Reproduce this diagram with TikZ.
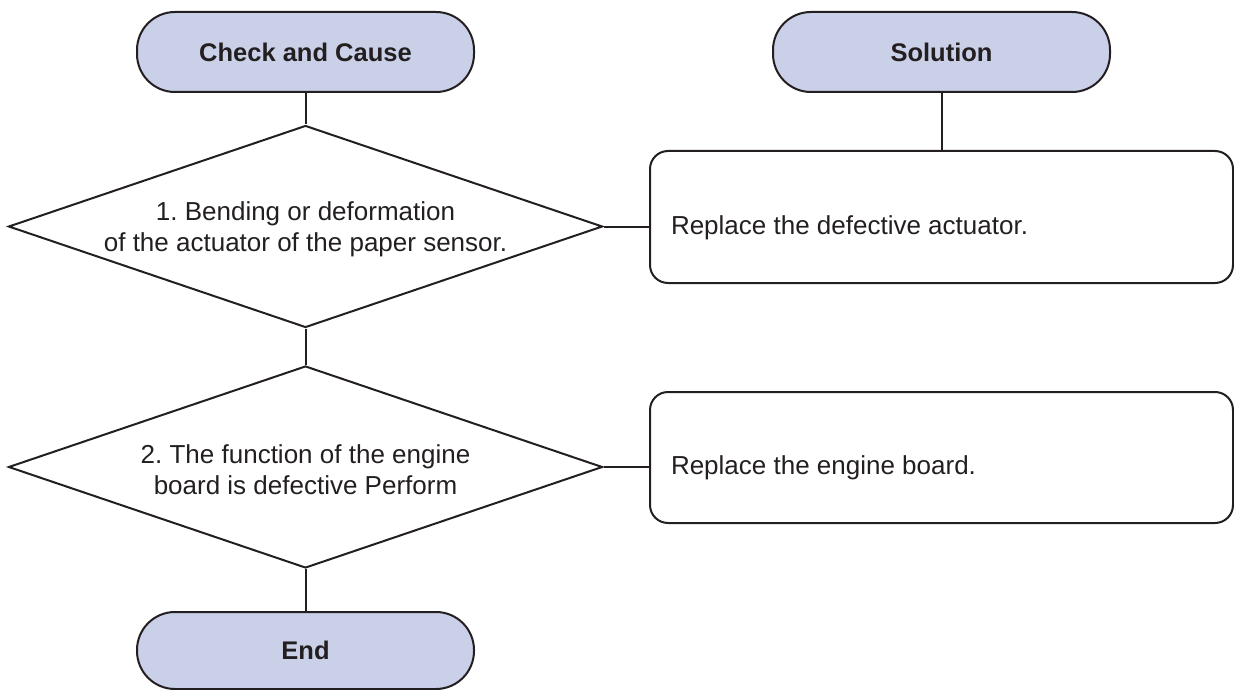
\documentclass[tikz,border=0pt]{standalone}
\usepackage{fontspec}
\setmainfont{Liberation Sans}
\usetikzlibrary{shapes.geometric}
\definecolor{pillfill}{HTML}{CBD0E9}
\definecolor{ink}{HTML}{231F20}
\frenchspacing
\begin{document}
\begin{tikzpicture}[x=1pt,y=-1pt,
  line width=2pt, draw=ink, text=ink,
  pill/.style={draw=ink, fill=pillfill, rectangle, rounded corners=38pt,
    minimum width=337pt, minimum height=80pt, inner sep=0pt,
    font=\fontsize{25.5}{30}\selectfont\bfseries},
  decision/.style={draw=ink, diamond, minimum width=594pt, minimum height=202pt, inner sep=0pt},
  dtext/.style={align=center, inner sep=0pt, font=\fontsize{26}{31}\selectfont},
  solbox/.style={draw=ink, rectangle, rounded corners=18pt, minimum width=583pt, inner sep=0pt},
  btext/.style={anchor=base west, inner sep=0pt, font=\fontsize{26}{31}\selectfont},
  conn/.style={draw=ink, line width=2pt}
]
\useasboundingbox (0,0) rectangle (1234,690);
\node[pill] (p1) at (305.5,52) {Check and Cause};
\node[pill] (p2) at (941.5,52) {Solution};
\node[decision] (d1) at (305.5,226.5) {};
\node[dtext] (d1t) at (305.5,229) {1. Bending or deformation\\of the actuator of the paper sensor.};
\node[decision] (d2) at (305.5,467) {};
\node[dtext] (d2t) at (305.5,469.5) {2. The function of the engine\\board is defective Perform};
\node[solbox, minimum height=132pt] (b1) at (941.5,217) {};
\node[btext] (b1t) at (670,234) {Replace the defective actuator.};
\node[solbox, minimum height=131pt] (b2) at (941.5,457.5) {};
\node[btext] (b2t) at (670,474.5) {Replace the engine board.};
\node[pill, minimum height=77pt] (e) at (305.5,650.5) {End};
\draw[conn] (p1.south) -- (d1.north);
\draw[conn] (p2.south) -- (p2.south |- b1.north);
\draw[conn] (d1.east) -- (d1.east -| b1.west);
\draw[conn] (d1.south) -- (d2.north);
\draw[conn] (d2.east) -- (d2.east -| b2.west);
\draw[conn] (d2.south) -- (e.north);
\end{tikzpicture}
\end{document}
